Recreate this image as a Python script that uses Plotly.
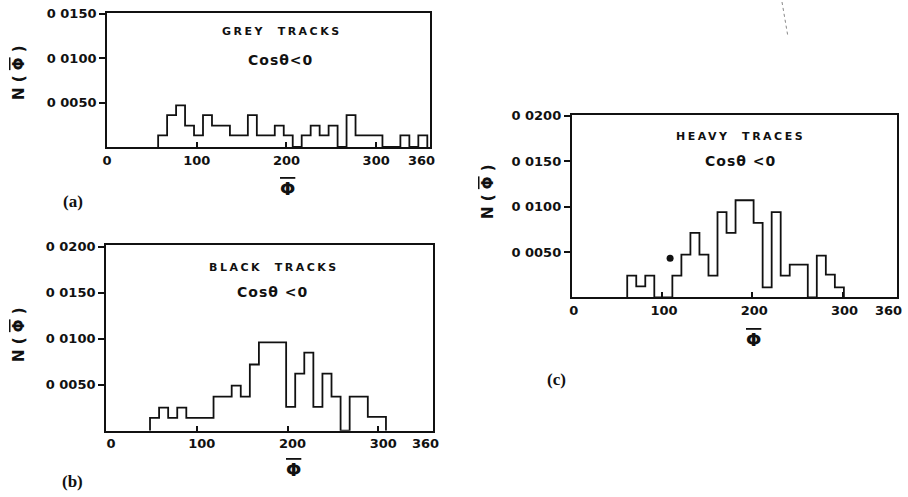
import plotly.graph_objects as go

W, H = 908, 497

# ---------------- data ----------------
# (a) grey tracks, cos(theta) < 0 : bin edges (deg) and N(phi) per bin
grey_edges = [57, 67, 77, 87, 97, 107, 117, 127, 137, 147, 157, 167, 177, 187, 197,
              207, 217, 227, 237, 247, 257, 267, 277, 287, 297, 307, 317, 327, 337, 347, 357]
grey_vals = [0.0013, 0.0036, 0.0047, 0.0024, 0.0013, 0.0036, 0.0024, 0.0024, 0.0013, 0.0013,
             0.0036, 0.0013, 0.0013, 0.0024, 0.0013, 0.0, 0.0013, 0.0024, 0.0013, 0.0024,
             0.0, 0.0036, 0.0013, 0.0013, 0.0013, 0.0, 0.0, 0.0013, 0.0, 0.0013]

# (b) black tracks
black_edges = [48.5, 58.5, 68.5, 78.5, 88.5, 98.5, 108.5, 118.5, 128.5, 138.5, 148.5, 158.5,
               168.5, 178.5, 188.5, 198.5, 208.5, 218.5, 228.5, 238.5, 248.5, 258.5, 268.5,
               278.5, 288.5, 298.5, 308.5]
black_vals = [0.0014, 0.0025, 0.0014, 0.0025, 0.0014, 0.0014, 0.0014, 0.0037, 0.0037, 0.0049,
              0.0037, 0.0072, 0.0096, 0.0096, 0.0096, 0.0026, 0.0062, 0.0085, 0.0026, 0.0062,
              0.0037, 0.0, 0.0037, 0.0037, 0.0015, 0.0015]

# (c) heavy traces
heavy_edges = [61.5, 71.5, 81.5, 91.5, 101.5, 111.5, 121.5, 131.5, 141.5, 151.5, 161.5, 171.5,
               181.5, 191.5, 201.5, 211.5, 221.5, 231.5, 241.5, 251.5, 261.5, 271.5, 281.5,
               291.5, 301.5]
heavy_vals = [0.0024, 0.0012, 0.0024, 0.0, 0.0, 0.0024, 0.0047, 0.0071, 0.0047, 0.0024,
              0.0094, 0.0071, 0.0107, 0.0107, 0.0082, 0.0011, 0.0094, 0.0024, 0.0036, 0.0036,
              0.0, 0.0046, 0.0025, 0.0011]
heavy_dot_x = [109]
heavy_dot_y = [0.0043]

x_tickvals = [0, 100, 200, 300, 360]
x_ticktext = ["0", "100", "200", "300", ""]
x_end_label = "360"
ya_tickvals = [0.005, 0.010, 0.015]
ya_ticktext = ["0 0050", "0 0100", "0 0150"]
yb_tickvals = [0.005, 0.010, 0.015, 0.020]
yb_ticktext = ["0 0050", "0 0100", "0 0150", "0 0200"]

panel_titles = ["GREY  TRACKS", "BLACK  TRACKS", "HEAVY  TRACES"]
panel_conds = ["Cosθ<0", "Cosθ <0", "Cosθ <0"]
panel_tags = ["(a)", "(b)", "(c)"]

# ---------------- helpers ----------------
def px(x):
    return x / W

def py(y):
    return 1 - y / H

def step_xy(edges, vals):
    xs = [edges[0]] + list(edges)
    ys = [0] + list(vals) + [0]
    return xs, ys

INK = "#111111"
TICKFONT = dict(family="DejaVu Sans", size=13, color=INK, weight="bold")

fig = go.Figure()
for i, (edges, vals) in enumerate([(grey_edges, grey_vals), (black_edges, black_vals),
                                   (heavy_edges, heavy_vals)]):
    xs, ys = step_xy(edges, vals)
    suffix = "" if i == 0 else str(i + 1)
    fig.add_trace(go.Scatter(x=xs, y=ys, mode="lines", line_shape="hv",
                             line=dict(color=INK, width=1.8),
                             xaxis="x" + suffix, yaxis="y" + suffix,
                             hoverinfo="skip", showlegend=False))

fig.add_trace(go.Scatter(x=heavy_dot_x, y=heavy_dot_y, mode="markers",
                         marker=dict(color=INK, size=7), xaxis="x3", yaxis="y3",
                         hoverinfo="skip", showlegend=False))

def xaxis(dom, anchor, shift=0):
    return dict(domain=dom, anchor=anchor, range=[0, 360], tickvals=x_tickvals,
                ticktext=x_ticktext, ticks="inside", ticklen=5, tickwidth=1.5,
                tickcolor=INK, showline=True, linecolor=INK, linewidth=1.8, mirror=True,
                showgrid=False, zeroline=False, tickfont=TICKFONT, fixedrange=True,
                automargin=False, ticklabelshift=shift)

def yaxis(dom, anchor, rng, tv, tt):
    return dict(domain=dom, anchor=anchor, range=rng, tickvals=tv, ticktext=tt,
                ticks="outside", ticklen=6, tickwidth=1.5, tickcolor=INK,
                showline=True, linecolor=INK, linewidth=1.8, mirror=True,
                showgrid=False, zeroline=False, tickfont=TICKFONT, fixedrange=True,
                automargin=False)

# panel boxes in pixels: (left, right, top, bottom)
boxes = [(107, 430, 13, 147), (106, 432.7, 245, 430.7), (571.7, 896.7, 115, 297.3)]

fig.update_layout(
    width=W, height=H, margin=dict(l=0, r=0, t=0, b=0, autoexpand=False),
    paper_bgcolor="white", plot_bgcolor="white", showlegend=False,
    xaxis=xaxis([px(boxes[0][0]), px(boxes[0][1])], "y"),
    yaxis=yaxis([py(boxes[0][3]), py(boxes[0][2])], "x", [0, 0.0151], ya_tickvals, ya_ticktext),
    xaxis2=xaxis([px(boxes[1][0]), px(boxes[1][1])], "y2", shift=5),
    yaxis2=yaxis([py(boxes[1][3]), py(boxes[1][2])], "x2", [0, 0.0202], yb_tickvals, yb_ticktext),
    xaxis3=xaxis([px(boxes[2][0]), px(boxes[2][1])], "y3", shift=2),
    yaxis3=yaxis([py(boxes[2][3]), py(boxes[2][2])], "x3", [0, 0.0201], yb_tickvals, yb_ticktext),
)

def note(x, y, text, size, family="DejaVu Sans", angle=0, weight="bold", spacing=None):
    if spacing is not None:
        text = "<span style='letter-spacing:%spx'>%s</span>" % (spacing, text)
    fig.add_annotation(x=px(x), y=py(y), xref="paper", yref="paper", text=text,
                       showarrow=False, xanchor="center", yanchor="middle",
                       textangle=angle,
                       font=dict(family=family, size=size, color=INK, weight=weight))

PHIBAR = "<span style='text-decoration:overline'>Φ</span>"

# inner titles
title_pos = [((282, 32), (280, 60)), ((274, 267), (272, 292)), ((740, 137), (740, 161))]
for (tp, cp), t, c in zip(title_pos, panel_titles, panel_conds):
    note(tp[0], tp[1], t, 11, spacing=2.5)
    note(cp[0], cp[1], c, 14, spacing=1)

# right-end "360" labels (set slightly inside the axis end, as printed)
for (x, y) in [(421, 160), (425, 443), (888, 310)]:
    note(x, y, x_end_label, 13)

# axis titles
for (x, y) in [(19, 73), (19, 335), (488, 191)]:
    note(x, y, "N ( " + PHIBAR + " )", 15, angle=-90)
for (x, y) in [(287, 189), (293, 469), (753, 339)]:
    note(x, y, PHIBAR, 18)

# panel tags
for (x, y), t in zip([(73, 201), (72, 481), (556, 379)], panel_tags):
    note(x, y, t, 17, family="Liberation Serif")

# faint scan mark at top right
fig.add_shape(type="line", xref="paper", yref="paper", x0=px(782), y0=py(2), x1=px(788),
              y1=py(37), line=dict(color="#888888", width=1, dash="dot"))

fig.write_html("out.html")
